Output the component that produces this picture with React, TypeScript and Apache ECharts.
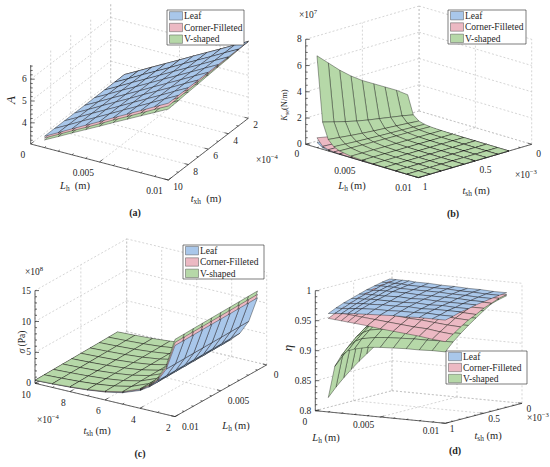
import React, { useEffect, useRef } from "react";
import * as echarts from "echarts";

const FONT = "'Liberation Serif', 'Times New Roman', Times, serif";
const TEXT_COLOR = "#262626";
const W = 550;
const H = 467;

// ---------- series ----------
const SERIES_NAMES = ["Leaf", "Corner-Filleted", "V-shaped"];
const SERIES_COLORS = ["#a9c7ea", "#ecb9c3", "#b6d8a8"];

// ---------- panel (a): A vs L_h and t_xh ----------
const aLh = [0.001, 0.002, 0.003, 0.004, 0.005, 0.006, 0.007, 0.008, 0.009, 0.01];
const aTxh = [2e-4, 3e-4, 4e-4, 5e-4, 6e-4, 7e-4, 8e-4, 9e-4, 10e-4];
const aLeafRow = [3.55, 3.88, 4.22, 4.55, 4.88, 5.22, 5.55, 5.88, 6.22, 6.55];
const aLeaf = [aLeafRow, aLeafRow, aLeafRow, aLeafRow, aLeafRow, aLeafRow, aLeafRow, aLeafRow, aLeafRow];
const aCF = [
  [3.55, 3.88, 4.22, 4.55, 4.88, 5.22, 5.55, 5.88, 6.22, 6.55],
  [3.54, 3.87, 4.21, 4.54, 4.87, 5.21, 5.54, 5.87, 6.2, 6.53],
  [3.53, 3.86, 4.2, 4.53, 4.86, 5.19, 5.52, 5.85, 6.19, 6.52],
  [3.52, 3.85, 4.19, 4.51, 4.84, 5.18, 5.51, 5.84, 6.17, 6.5],
  [3.51, 3.84, 4.18, 4.5, 4.83, 5.17, 5.5, 5.82, 6.16, 6.49],
  [3.5, 3.83, 4.16, 4.49, 4.82, 5.15, 5.48, 5.81, 6.14, 6.47],
  [3.49, 3.82, 4.15, 4.48, 4.81, 5.14, 5.47, 5.79, 6.13, 6.45],
  [3.48, 3.81, 4.14, 4.46, 4.79, 5.13, 5.45, 5.78, 6.11, 6.44],
  [3.47, 3.8, 4.13, 4.45, 4.78, 5.12, 5.44, 5.77, 6.1, 6.42],
];
const aV = [
  [3.55, 3.88, 4.22, 4.55, 4.88, 5.22, 5.55, 5.88, 6.22, 6.55],
  [3.53, 3.86, 4.2, 4.53, 4.85, 5.19, 5.52, 5.85, 6.19, 6.52],
  [3.51, 3.84, 4.17, 4.5, 4.83, 5.17, 5.49, 5.82, 6.16, 6.48],
  [3.49, 3.81, 4.15, 4.48, 4.8, 5.14, 5.46, 5.79, 6.12, 6.45],
  [3.47, 3.79, 4.13, 4.45, 4.78, 5.11, 5.44, 5.76, 6.09, 6.42],
  [3.44, 3.77, 4.1, 4.43, 4.75, 5.08, 5.41, 5.73, 6.06, 6.38],
  [3.42, 3.75, 4.08, 4.4, 4.72, 5.06, 5.38, 5.7, 6.03, 6.35],
  [3.4, 3.72, 4.05, 4.38, 4.7, 5.03, 5.35, 5.67, 5.99, 6.31],
  [3.38, 3.7, 4.03, 4.35, 4.67, 5.0, 5.32, 5.64, 5.96, 6.28],
];

// ---------- panel (b): K_se (x1e7 N/m) ----------
const bLh = [0.001, 0.0015, 0.002, 0.0025, 0.003, 0.004, 0.005, 0.006, 0.007, 0.008, 0.009, 0.01];
const bTsh = [2e-4, 3e-4, 4e-4, 5e-4, 6e-4, 7e-4, 8e-4, 9e-4, 10e-4];
const bLeaf = [
  [0.003, 0.001, 0.0004, 0.0002, 0.0001, 0, 0, 0, 0, 0, 0, 0],
  [0.011, 0.003, 0.0014, 0.0007, 0.0004, 0.0002, 0.0001, 0, 0, 0, 0, 0],
  [0.026, 0.0076, 0.0032, 0.0016, 0.0009, 0.0004, 0.0002, 0.0001, 0, 0, 0, 0],
  [0.05, 0.0148, 0.0063, 0.0032, 0.0019, 0.0008, 0.0004, 0.0002, 0.0001, 0.0001, 0, 0],
  [0.086, 0.0256, 0.0108, 0.0055, 0.0032, 0.0013, 0.0007, 0.0004, 0.0003, 0.0002, 0.0001, 0.0001],
  [0.137, 0.0406, 0.0171, 0.0088, 0.0051, 0.0021, 0.0011, 0.0006, 0.0004, 0.0003, 0.0002, 0.0001],
  [0.205, 0.0607, 0.0256, 0.0131, 0.0076, 0.0032, 0.0016, 0.0009, 0.0006, 0.0004, 0.0003, 0.0002],
  [0.292, 0.0864, 0.0365, 0.0187, 0.0108, 0.0046, 0.0023, 0.0014, 0.0009, 0.0006, 0.0004, 0.0003],
  [0.4, 0.118, 0.05, 0.0256, 0.0148, 0.0062, 0.0032, 0.0019, 0.0012, 0.0008, 0.0005, 0.0004],
];
const bCF = [
  [0.013, 0.0039, 0.0016, 0.0008, 0.0005, 0.0002, 0.0001, 0.0001, 0, 0, 0, 0],
  [0.037, 0.011, 0.0046, 0.0024, 0.0014, 0.0006, 0.0003, 0.0002, 0.0001, 0.0001, 0.0001, 0],
  [0.076, 0.0225, 0.0095, 0.0049, 0.0028, 0.0012, 0.0006, 0.0004, 0.0002, 0.0001, 0.0001, 0.0001],
  [0.133, 0.0394, 0.0166, 0.0085, 0.0049, 0.0021, 0.0011, 0.0006, 0.0004, 0.0003, 0.0002, 0.0001],
  [0.209, 0.0619, 0.0261, 0.0134, 0.0077, 0.0033, 0.0017, 0.001, 0.0006, 0.0004, 0.0003, 0.0002],
  [0.308, 0.0912, 0.0385, 0.0197, 0.0114, 0.0048, 0.0025, 0.0014, 0.0009, 0.0006, 0.0004, 0.0003],
  [0.429, 0.127, 0.0536, 0.0275, 0.0159, 0.0067, 0.0034, 0.002, 0.0013, 0.0008, 0.0006, 0.0004],
  [0.576, 0.171, 0.072, 0.0369, 0.0213, 0.009, 0.0046, 0.0027, 0.0017, 0.0011, 0.0008, 0.0006],
  [0.75, 0.222, 0.0938, 0.048, 0.0278, 0.0117, 0.006, 0.0035, 0.0022, 0.0015, 0.001, 0.0008],
];
const bV = [
  [2.0, 0.593, 0.25, 0.128, 0.074, 0.031, 0.016, 0.0093, 0.0058, 0.0039, 0.0027, 0.002],
  [2.6, 0.77, 0.325, 0.166, 0.096, 0.041, 0.021, 0.012, 0.0076, 0.0051, 0.0036, 0.0026],
  [3.1, 0.918, 0.388, 0.198, 0.115, 0.048, 0.025, 0.014, 0.009, 0.006, 0.0042, 0.0031],
  [3.6, 1.067, 0.45, 0.23, 0.133, 0.056, 0.029, 0.017, 0.0105, 0.007, 0.0049, 0.0036],
  [4.1, 1.215, 0.513, 0.262, 0.152, 0.064, 0.033, 0.019, 0.012, 0.008, 0.0056, 0.0041],
  [4.7, 1.393, 0.588, 0.301, 0.174, 0.073, 0.038, 0.022, 0.0137, 0.0092, 0.0064, 0.0047],
  [5.4, 1.6, 0.675, 0.346, 0.2, 0.084, 0.043, 0.025, 0.0158, 0.0105, 0.0074, 0.0054],
  [6.2, 1.837, 0.775, 0.397, 0.23, 0.097, 0.05, 0.029, 0.018, 0.012, 0.0085, 0.0062],
  [7.0, 2.074, 0.875, 0.448, 0.259, 0.109, 0.056, 0.032, 0.02, 0.0137, 0.0096, 0.007],
];

// ---------- panel (c): sigma (x1e8 Pa) ----------
const cTsh = [2e-4, 2.5e-4, 3e-4, 3.5e-4, 4e-4, 5e-4, 6e-4, 7e-4, 8e-4, 9e-4, 10e-4];
const cLh = [0.001, 0.002, 0.003, 0.004, 0.005, 0.006, 0.007, 0.008, 0.009, 0.01];
const cLeaf = [
  [11.7, 11.68, 11.66, 11.63, 11.61, 11.59, 11.57, 11.54, 11.52, 11.5],
  [7.56, 7.54, 7.52, 7.49, 7.47, 7.45, 7.43, 7.4, 7.38, 7.36],
  [5.31, 5.29, 5.27, 5.24, 5.22, 5.2, 5.18, 5.15, 5.13, 5.11],
  [3.96, 3.94, 3.92, 3.89, 3.87, 3.85, 3.83, 3.8, 3.78, 3.76],
  [3.08, 3.06, 3.04, 3.01, 2.99, 2.97, 2.95, 2.92, 2.9, 2.88],
  [2.04, 2.02, 2.0, 1.97, 1.95, 1.93, 1.91, 1.88, 1.86, 1.84],
  [1.48, 1.46, 1.44, 1.41, 1.39, 1.37, 1.35, 1.32, 1.3, 1.28],
  [1.14, 1.12, 1.1, 1.07, 1.05, 1.03, 1.01, 0.98, 0.96, 0.94],
  [0.92, 0.9, 0.88, 0.85, 0.83, 0.81, 0.79, 0.76, 0.74, 0.72],
  [0.77, 0.75, 0.73, 0.7, 0.68, 0.66, 0.64, 0.61, 0.59, 0.57],
  [0.66, 0.64, 0.62, 0.59, 0.57, 0.55, 0.53, 0.5, 0.48, 0.46],
];
const cCF = [
  [12.25, 12.22, 12.19, 12.17, 12.14, 12.11, 12.08, 12.06, 12.03, 12.0],
  [7.93, 7.9, 7.87, 7.85, 7.82, 7.79, 7.76, 7.74, 7.71, 7.68],
  [5.58, 5.55, 5.52, 5.5, 5.47, 5.44, 5.41, 5.39, 5.36, 5.33],
  [4.17, 4.14, 4.11, 4.09, 4.06, 4.03, 4.0, 3.98, 3.95, 3.92],
  [3.25, 3.22, 3.19, 3.17, 3.14, 3.11, 3.08, 3.06, 3.03, 3.0],
  [2.17, 2.14, 2.11, 2.09, 2.06, 2.03, 2.0, 1.98, 1.95, 1.92],
  [1.58, 1.55, 1.52, 1.5, 1.47, 1.44, 1.41, 1.39, 1.36, 1.33],
  [1.23, 1.2, 1.17, 1.15, 1.12, 1.09, 1.06, 1.04, 1.01, 0.98],
  [1.0, 0.97, 0.94, 0.92, 0.89, 0.86, 0.83, 0.81, 0.78, 0.75],
  [0.84, 0.81, 0.78, 0.76, 0.73, 0.7, 0.67, 0.65, 0.62, 0.59],
  [0.73, 0.7, 0.67, 0.65, 0.62, 0.59, 0.56, 0.54, 0.51, 0.48],
];
const cV = [
  [12.8, 12.77, 12.73, 12.7, 12.67, 12.63, 12.6, 12.57, 12.53, 12.5],
  [8.3, 8.27, 8.23, 8.2, 8.17, 8.13, 8.1, 8.07, 8.03, 8.0],
  [5.86, 5.83, 5.79, 5.76, 5.73, 5.69, 5.66, 5.63, 5.59, 5.56],
  [4.38, 4.35, 4.31, 4.28, 4.25, 4.21, 4.18, 4.15, 4.11, 4.08],
  [3.43, 3.4, 3.36, 3.33, 3.3, 3.26, 3.23, 3.2, 3.16, 3.13],
  [2.3, 2.27, 2.23, 2.2, 2.17, 2.13, 2.1, 2.07, 2.03, 2.0],
  [1.69, 1.66, 1.62, 1.59, 1.56, 1.52, 1.49, 1.46, 1.42, 1.39],
  [1.32, 1.29, 1.25, 1.22, 1.19, 1.15, 1.12, 1.09, 1.05, 1.02],
  [1.08, 1.05, 1.01, 0.98, 0.95, 0.91, 0.88, 0.85, 0.81, 0.78],
  [0.92, 0.89, 0.85, 0.82, 0.79, 0.75, 0.72, 0.69, 0.65, 0.62],
  [0.8, 0.77, 0.73, 0.7, 0.67, 0.63, 0.6, 0.57, 0.53, 0.5],
];

// ---------- panel (d): eta ----------
const dLh = [0.001, 0.0015, 0.002, 0.0025, 0.003, 0.004, 0.005, 0.006, 0.007, 0.008, 0.009, 0.01];
const dTsh = [2e-4, 3e-4, 4e-4, 5e-4, 6e-4, 7e-4, 8e-4, 9e-4, 10e-4];
const dLeaf = [
  [0.995, 0.995, 0.995, 0.995, 0.994, 0.994, 0.993, 0.993, 0.992, 0.992, 0.991, 0.991],
  [0.993, 0.993, 0.993, 0.993, 0.992, 0.992, 0.992, 0.992, 0.991, 0.991, 0.99, 0.99],
  [0.99, 0.991, 0.991, 0.991, 0.99, 0.99, 0.99, 0.99, 0.989, 0.989, 0.988, 0.988],
  [0.987, 0.987, 0.988, 0.988, 0.988, 0.988, 0.987, 0.987, 0.987, 0.987, 0.986, 0.986],
  [0.983, 0.984, 0.984, 0.984, 0.984, 0.985, 0.984, 0.985, 0.984, 0.984, 0.984, 0.984],
  [0.979, 0.98, 0.98, 0.981, 0.981, 0.981, 0.981, 0.982, 0.981, 0.982, 0.981, 0.981],
  [0.975, 0.975, 0.976, 0.977, 0.977, 0.978, 0.978, 0.979, 0.978, 0.979, 0.979, 0.979],
  [0.97, 0.97, 0.971, 0.972, 0.973, 0.974, 0.974, 0.975, 0.975, 0.976, 0.975, 0.975],
  [0.964, 0.965, 0.966, 0.967, 0.968, 0.969, 0.97, 0.971, 0.971, 0.972, 0.972, 0.972],
];
const dCF = [
  [0.991, 0.991, 0.991, 0.991, 0.99, 0.99, 0.99, 0.989, 0.989, 0.989, 0.988, 0.988],
  [0.989, 0.989, 0.989, 0.989, 0.988, 0.988, 0.987, 0.986, 0.986, 0.986, 0.985, 0.985],
  [0.986, 0.986, 0.985, 0.985, 0.984, 0.984, 0.984, 0.982, 0.982, 0.982, 0.981, 0.98],
  [0.982, 0.982, 0.981, 0.981, 0.98, 0.98, 0.979, 0.978, 0.977, 0.977, 0.975, 0.975],
  [0.978, 0.977, 0.977, 0.977, 0.976, 0.975, 0.974, 0.972, 0.972, 0.971, 0.969, 0.968],
  [0.973, 0.973, 0.972, 0.972, 0.971, 0.97, 0.968, 0.967, 0.966, 0.965, 0.963, 0.962],
  [0.968, 0.967, 0.967, 0.966, 0.965, 0.964, 0.962, 0.96, 0.959, 0.957, 0.955, 0.954],
  [0.962, 0.962, 0.961, 0.96, 0.959, 0.957, 0.955, 0.953, 0.951, 0.95, 0.947, 0.945],
  [0.956, 0.955, 0.954, 0.953, 0.952, 0.95, 0.947, 0.945, 0.943, 0.941, 0.938, 0.936],
];
const dV = [
  [0.898, 0.947, 0.965, 0.973, 0.977, 0.981, 0.983, 0.985, 0.985, 0.986, 0.986, 0.986],
  [0.893, 0.944, 0.961, 0.969, 0.974, 0.978, 0.98, 0.981, 0.982, 0.983, 0.983, 0.983],
  [0.889, 0.94, 0.957, 0.965, 0.97, 0.974, 0.976, 0.977, 0.978, 0.979, 0.979, 0.979],
  [0.88, 0.931, 0.949, 0.957, 0.962, 0.966, 0.968, 0.969, 0.97, 0.971, 0.971, 0.971],
  [0.871, 0.922, 0.94, 0.948, 0.953, 0.957, 0.959, 0.96, 0.961, 0.962, 0.962, 0.962],
  [0.861, 0.913, 0.931, 0.939, 0.944, 0.948, 0.95, 0.951, 0.952, 0.952, 0.953, 0.953],
  [0.85, 0.902, 0.921, 0.929, 0.934, 0.938, 0.94, 0.941, 0.942, 0.942, 0.943, 0.943],
  [0.838, 0.891, 0.909, 0.918, 0.923, 0.927, 0.929, 0.93, 0.931, 0.931, 0.932, 0.932],
  [0.824, 0.877, 0.896, 0.905, 0.909, 0.914, 0.916, 0.917, 0.918, 0.918, 0.919, 0.919],
];

// ---------- tick values and labels ----------
const lhTicks = [0, 0.005, 0.01];
const lhTickLabels = ["0", "0.005", "0.01"];
const t4Ticks = [2e-4, 4e-4, 6e-4, 8e-4, 10e-4];
const t4TickLabels = ["2", "4", "6", "8", "10"];
const t3Ticks = [0, 5e-4, 1e-3];
const t3TickLabels = ["0", "0.5", "1"];
const aZTicks = [4, 5, 6];
const aZTickLabels = ["4", "5", "6"];
const bZTicks = [0, 2, 4, 6, 8];
const bZTickLabels = ["0", "2", "4", "6", "8"];
const cZTicks = [0, 5, 10, 15];
const cZTickLabels = ["0", "5", "10", "15"];
const dZTicks = [0.8, 0.85, 0.9, 0.95, 1];
const dZTickLabels = ["0.8", "0.85", "0.9", "0.95", "1"];

// ---------- panel layout (screen geometry of each 3-D box) ----------
const PANELS: any[] = [
  {
    O: [30.7, 144], ex: [137.6, 36], ey: [80, -61.7], H: 79,
    xr: [0, 0.01], yr: [10e-4, 2e-4], zr: [3.03, 6.65],
    rows: aTxh, cols: aLh, rowIsX: false, surf: [aLeaf, aCF, aV],
    xT: lhTicks, xTL: lhTickLabels, xMinor: 0.001,
    yT: t4Ticks, yTL: t4TickLabels, yMinor: 1e-4,
    zT: aZTicks, zTL: aZTickLabels, zMinor: 0.2,
    xOff: [-5.5, 10.5], yOff: [5, 7],
  },
  {
    O: [305.7, 144.3], ex: [112.6, 33.3], ey: [113.4, -33.3], H: 105,
    xr: [0, 0.01], yr: [1e-3, 0], zr: [0, 8],
    rows: bTsh, cols: bLh, rowIsX: false, surf: [bLeaf, bCF, bV],
    xT: lhTicks, xTL: lhTickLabels, xMinor: 0.001,
    yT: t3Ticks, yTL: t3TickLabels, yMinor: 1e-4,
    zT: bZTicks, zTL: bZTickLabels, zMinor: 0.5,
    xOff: [-6.5, 10], yOff: [4.5, 9.5],
  },
  {
    O: [35, 383.3], ex: [140, 33.3], ey: [91.7, -51.7], H: 92.7,
    xr: [10e-4, 2e-4], yr: [0.01, 0], zr: [0, 15],
    rows: cTsh, cols: cLh, rowIsX: true, surf: [cLeaf, cCF, cV],
    xT: t4Ticks, xTL: t4TickLabels, xMinor: 1e-4,
    yT: lhTicks, yTL: lhTickLabels, yMinor: 0.001,
    zT: cZTicks, zTL: cZTickLabels, zMinor: 1,
    xOff: [-4.3, 11.5], yOff: [7, 10],
  },
  {
    O: [315.3, 410.7], ex: [130, 12.6], ey: [76.7, -20], H: 120,
    xr: [0, 0.01], yr: [1e-3, 0], zr: [0.8, 1],
    rows: dTsh, cols: dLh, rowIsX: false, surf: [dLeaf, dCF, dV],
    xT: lhTicks, xTL: lhTickLabels, xMinor: 0.001,
    yT: t3Ticks, yTL: t3TickLabels, yMinor: 1e-4,
    zT: dZTicks, zTL: dZTickLabels, zMinor: 0.01,
    xOff: [-6, 7.5], xOffFirst: [-8, 11], yOff: [4.5, 6],
  },
];

// depth direction for an orthographic box with the given screen edge vectors
PANELS.forEach((P) => {
  const ez = [0, -P.H];
  const A = P.ex[0] * P.ey[0] + P.ex[1] * P.ey[1];
  const B = P.ex[0] * ez[0] + P.ex[1] * ez[1];
  const C = P.ey[0] * ez[0] + P.ey[1] * ez[1];
  let q = -(A * B) / C;
  if (!(q > 0)) q = 1;
  let dx = Math.sqrt(q);
  let dy = -A / dx;
  let dz = -B / dx;
  if (dz < 0) { dx = -dx; dy = -dy; dz = -dz; }
  P.d = [dx, dy, dz];
});

function proj(P: any, xv: number, yv: number, zv: number) {
  const u = (xv - P.xr[0]) / (P.xr[1] - P.xr[0]);
  const v = (yv - P.yr[0]) / (P.yr[1] - P.yr[0]);
  const w = (zv - P.zr[0]) / (P.zr[1] - P.zr[0]);
  return [
    P.O[0] + u * P.ex[0] + v * P.ey[0],
    P.O[1] + u * P.ex[1] + v * P.ey[1] - w * P.H,
    u * P.d[0] + v * P.d[1] + w * P.d[2],
  ];
}

const QUAD = [[0, 0], [1, 0], [1, 1], [0, 1]];

function cellCorners(P: any, s: number, i: number, j: number, flat = false) {
  const Z = P.surf[s];
  return QUAD.map(([da, db]) => {
    const a = i + da, b = j + db;
    const rv = P.rows[a];
    const cv = P.cols[b];
    const xv = P.rowIsX ? rv : cv;
    const yv = P.rowIsX ? cv : rv;
    return proj(P, xv, yv, flat ? P.zr[0] : Z[a][b]);
  });
}

function signedArea(c: number[][]) {
  let s = 0;
  for (let k = 0; k < c.length; k++) {
    const p = c[k], q = c[(k + 1) % c.length];
    s += p[0] * q[1] - q[0] * p[1];
  }
  return s / 2;
}

function tickRange(lo: number, hi: number, step: number) {
  const a = Math.min(lo, hi), b = Math.max(lo, hi);
  const out: number[] = [];
  const k0 = Math.ceil(a / step - 1e-6), k1 = Math.floor(b / step + 1e-6);
  for (let k = k0; k <= k1; k++) out.push(k * step);
  return out;
}

function unit(v: number[]) {
  const l = Math.hypot(v[0], v[1]);
  return [v[0] / l, v[1] / l];
}

// ---------- segments (grid lines, axes, ticks) ----------
const GRID_SEGS: any[] = [];
const AXIS_SEGS: any[] = [];
PANELS.forEach((P) => {
  const [x0, x1] = P.xr, [y0, y1] = P.yr, [z0, z1] = P.zr;
  const p3 = (x: number, y: number, z: number) => proj(P, x, y, z);
  const g = (a: number[], b: number[]) => GRID_SEGS.push([a[0], a[1], b[0], b[1]]);
  const xw = P.d[0] > 0 ? x0 : x1;
  const yw = P.d[1] > 0 ? y0 : y1;
  P.xT.forEach((xt: number) => g(p3(xt, y0, z0), p3(xt, y1, z0)));
  P.yT.forEach((yt: number) => g(p3(x0, yt, z0), p3(x1, yt, z0)));
  P.yT.forEach((yt: number) => g(p3(xw, yt, z0), p3(xw, yt, z1)));
  P.zT.forEach((zt: number) => g(p3(xw, y0, zt), p3(xw, y1, zt)));
  P.xT.forEach((xt: number) => g(p3(xt, yw, z0), p3(xt, yw, z1)));
  P.zT.forEach((zt: number) => g(p3(x0, yw, zt), p3(x1, yw, zt)));

  const a = (p: number[], q: number[]) => AXIS_SEGS.push([p[0], p[1], q[0], q[1]]);
  a(p3(x0, y0, z0), p3(x1, y0, z0));
  a(p3(x1, y0, z0), p3(x1, y1, z0));
  a(p3(x0, y0, z0), p3(x0, y0, z1));
  const uy = unit(P.ey), ux = unit(P.ex);
  const isMajor = (v: number, arr: number[], span: number) => arr.some((m) => Math.abs(m - v) < span * 1e-4);
  tickRange(x0, x1, P.xMinor).forEach((xt) => {
    const L = isMajor(xt, P.xT, Math.abs(x1 - x0)) ? 4 : 2;
    const b = p3(xt, y0, z0);
    a(b, [b[0] + uy[0] * L, b[1] + uy[1] * L]);
  });
  tickRange(y0, y1, P.yMinor).forEach((yt) => {
    const L = isMajor(yt, P.yT, Math.abs(y1 - y0)) ? 4 : 2;
    const b = p3(x1, yt, z0);
    a(b, [b[0] - ux[0] * L, b[1] - ux[1] * L]);
  });
  tickRange(z0, z1, P.zMinor).forEach((zt) => {
    const L = isMajor(zt, P.zT, Math.abs(z1 - z0)) ? 4 : 2;
    const b = p3(x0, y0, zt);
    a(b, [b[0] + L, b[1]]);
  });
});

// ---------- surface cells: height-field painter order ----------
// footprints drawn far -> near; inside a footprint, the surface whose visible side
// faces the viewer is ordered by height (top side seen: higher last; underside seen: lower last)
const CELL_DATA: number[][] = [];
PANELS.forEach((P, p) => {
  const groups: any[] = [];
  const nR = P.rows.length, nC = P.cols.length;
  for (let i = 0; i < nR - 1; i++) {
    for (let j = 0; j < nC - 1; j++) {
      const foot = cellCorners(P, 0, i, j, true);
      const fDepth = (foot[0][2] + foot[1][2] + foot[2][2] + foot[3][2]) / 4;
      const refSign = Math.sign(signedArea(foot)) || 1;
      let orient = 0;
      const members = P.surf.map((Z: number[][], s: number) => {
        const c = cellCorners(P, s, i, j);
        orient += signedArea(c) * refSign;
        const mz = (Z[i][j] + Z[i + 1][j] + Z[i + 1][j + 1] + Z[i][j + 1]) / 4;
        return { s, mz };
      });
      const topSeen = orient >= 0;
      members.sort((m1: any, m2: any) => (topSeen ? m1.mz - m2.mz : m2.mz - m1.mz) || m1.s - m2.s);
      groups.push({ i, j, fDepth, members });
    }
  }
  groups.sort((g1, g2) => g1.fDepth - g2.fDepth);
  groups.forEach((gr) => gr.members.forEach((m: any) => CELL_DATA.push([p, m.s, gr.i, gr.j])));
});

// ---------- texts ----------
function rich(base: number) {
  const sub = Math.round(base * 0.7 * 10) / 10;
  return {
    i: { fontFamily: FONT, fontStyle: "italic", fontSize: base, lineHeight: base + 4, verticalAlign: "middle", fill: TEXT_COLOR },
    n: { fontFamily: FONT, fontSize: base, lineHeight: base + 4, verticalAlign: "middle", fill: TEXT_COLOR },
    s: { fontFamily: FONT, fontSize: sub, lineHeight: sub, verticalAlign: "bottom", fill: TEXT_COLOR },
    p: { fontFamily: FONT, fontSize: sub, lineHeight: sub, verticalAlign: "top", fill: TEXT_COLOR },
  };
}

function txt(x: number, y: number, text: string, o: any = {}) {
  return {
    type: "text",
    x, y, z: 102, silent: true,
    rotation: o.rot || 0,
    style: {
      text,
      fontFamily: FONT,
      fontSize: o.size || 9.5,
      fontStyle: o.italic ? "italic" : "normal",
      fontWeight: o.bold ? "bold" : "normal",
      fill: TEXT_COLOR,
      align: o.align || "center",
      verticalAlign: o.va || "middle",
      rich: o.rich,
    },
  };
}

function legendEls(x: number, y: number, w: number, h: number) {
  const els: any[] = [
    { type: "rect", z: 100, silent: true, shape: { x, y, width: w, height: h }, style: { fill: "#ffffff", stroke: "#262626", lineWidth: 0.6 } },
  ];
  const rh = h / 3;
  SERIES_NAMES.forEach((name, k) => {
    const cy = y + rh * (k + 0.5);
    els.push({ type: "rect", z: 101, silent: true, shape: { x: x + 2.5, y: cy - 4.2, width: 13, height: 8.4 }, style: { fill: SERIES_COLORS[k], stroke: "#555", lineWidth: 0.5 } });
    els.push(txt(x + 17, cy + 0.3, name, { align: "left" }));
  });
  return els;
}

function buildTexts() {
  const els: any[] = [];
  PANELS.forEach((P) => {
    const [x0, x1] = P.xr, [y0] = P.yr, [z0] = P.zr;
    P.xT.forEach((xt: number, k: number) => {
      const b = proj(P, xt, y0, z0);
      const off = k === 0 && P.xOffFirst ? P.xOffFirst : P.xOff;
      els.push(txt(b[0] + off[0], b[1] + off[1], P.xTL[k], { align: "right" }));
    });
    P.yT.forEach((yt: number, k: number) => {
      const b = proj(P, x1, yt, z0);
      els.push(txt(b[0] + P.yOff[0], b[1] + P.yOff[1], P.yTL[k], { align: "left" }));
    });
    P.zT.forEach((zt: number, k: number) => {
      const b = proj(P, x0, y0, zt);
      els.push(txt(b[0] - 4, b[1], P.zTL[k], { align: "right" }));
    });
  });
  const r10 = rich(10.5);
  const r95 = rich(9.5);
  // (a)
  els.push(txt(75, 185, "{i|L}{s|h}{n|  (m)}", { rich: r10 }));
  els.push(txt(206, 198, "{i|t}{s|xh}{n|  (m)}", { rich: r10 }));
  els.push(txt(10, 100, "A", { italic: true, size: 13, rot: Math.PI / 2 }));
  els.push(txt(256, 160, "{n|×10}{p|−4}", { align: "left", rich: r95 }));
  els.push(txt(135, 212, "(a)", { bold: true, size: 10 }));
  // (b)
  els.push(txt(352, 185, "{i|L}{s|h}{n| (m)}", { rich: r10 }));
  els.push(txt(476, 190, "{i|t}{s|sh}{n| (m)}", { rich: r10 }));
  els.push(txt(284, 105, "{i|K}{s|se}{n|(N/m)}", { rot: Math.PI / 2, rich: rich(8.5) }));
  els.push(txt(299, 15, "{n|×10}{p|7}", { align: "left", rich: r95 }));
  els.push(txt(515, 175, "{n|×10}{p|−3}", { align: "left", rich: r95 }));
  els.push(txt(453, 213, "(b)", { bold: true, size: 10 }));
  // (c)
  els.push(txt(97, 430, "{i|t}{s|sh}{n| (m)}", { rich: r10 }));
  els.push(txt(37, 420, "{n|×10}{p|−4}", { align: "left", rich: r95 }));
  els.push(txt(236, 425, "{i|L}{s|h}{n| (m)}", { rich: r10 }));
  els.push(txt(21.7, 342, "{i|σ}{n| (Pa)}", { rot: Math.PI / 2, rich: r95 }));
  els.push(txt(25, 272, "{n|×10}{p|8}", { align: "left", rich: r95 }));
  els.push(txt(140, 453, "(c)", { bold: true, size: 10 }));
  // (d)
  els.push(txt(326, 437, "{i|L}{s|h}{n| (m)}", { rich: r10 }));
  els.push(txt(488, 435, "{i|t}{s|sh}{n| (m)}", { rich: r10 }));
  els.push(txt(287, 348, "η", { italic: true, size: 13, rot: Math.PI / 2 }));
  els.push(txt(527, 418, "{n|×10}{p|−3}", { align: "left", rich: r95 }));
  els.push(txt(455, 450, "(d)", { bold: true, size: 10 }));
  // legends
  els.push(...legendEls(167, 10, 77, 35));
  els.push(...legendEls(448, 10, 78, 34));
  els.push(...legendEls(183, 245, 81, 34));
  els.push(...legendEls(446, 351, 81, 33));
  return els;
}

function buildOption() {
  const segRender = (list: any[], style: any) => (params: any, api: any) => {
    const s = list[api.value(0)];
    const a = api.coord([s[0], s[1]]);
    const b = api.coord([s[2], s[3]]);
    return { type: "line", shape: { x1: a[0], y1: a[1], x2: b[0], y2: b[1] }, style };
  };
  const cellRender = (params: any, api: any) => {
    const p = api.value(0), s = api.value(1), i = api.value(2), j = api.value(3);
    const P = PANELS[p];
    const pts = cellCorners(P, s, i, j).map((c) => api.coord([c[0], c[1]]));
    return {
      type: "polygon",
      shape: { points: pts },
      style: { fill: SERIES_COLORS[s], stroke: "rgba(0,0,0,0.78)", lineWidth: 0.45, lineJoin: "round" },
    };
  };
  return {
    animation: false,
    backgroundColor: "#ffffff",
    grid: { left: 0, right: 0, top: 0, bottom: 0, show: false },
    xAxis: { type: "value", min: 0, max: W, show: false },
    yAxis: { type: "value", min: 0, max: H, inverse: true, show: false },
    series: [
      {
        type: "custom", name: "grid", silent: true, z: 1,
        renderItem: segRender(GRID_SEGS, { stroke: "#b8b8b8", lineWidth: 0.6, lineDash: [2, 2] }),
        data: GRID_SEGS.map((_, k) => [k, 0]),
      },
      {
        type: "custom", name: "surfaces", silent: true, z: 2,
        renderItem: cellRender,
        data: CELL_DATA,
      },
      {
        type: "custom", name: "axes", silent: true, z: 3,
        renderItem: segRender(AXIS_SEGS, { stroke: "#262626", lineWidth: 0.7 }),
        data: AXIS_SEGS.map((_, k) => [k, 0]),
      },
    ],
    graphic: { elements: buildTexts() },
  };
}

export default function App() {
  const ref = useRef<HTMLDivElement>(null);
  useEffect(() => {
    const el = ref.current;
    if (!el) return;
    const chart = echarts.init(el, undefined, { renderer: "svg" });
    chart.setOption(buildOption() as any);
    return () => chart.dispose();
  }, []);
  return (
    <div
      ref={ref}
      style={{ position: "fixed", left: 0, top: 0, width: W, height: H, background: "#ffffff" }}
    />
  );
}
